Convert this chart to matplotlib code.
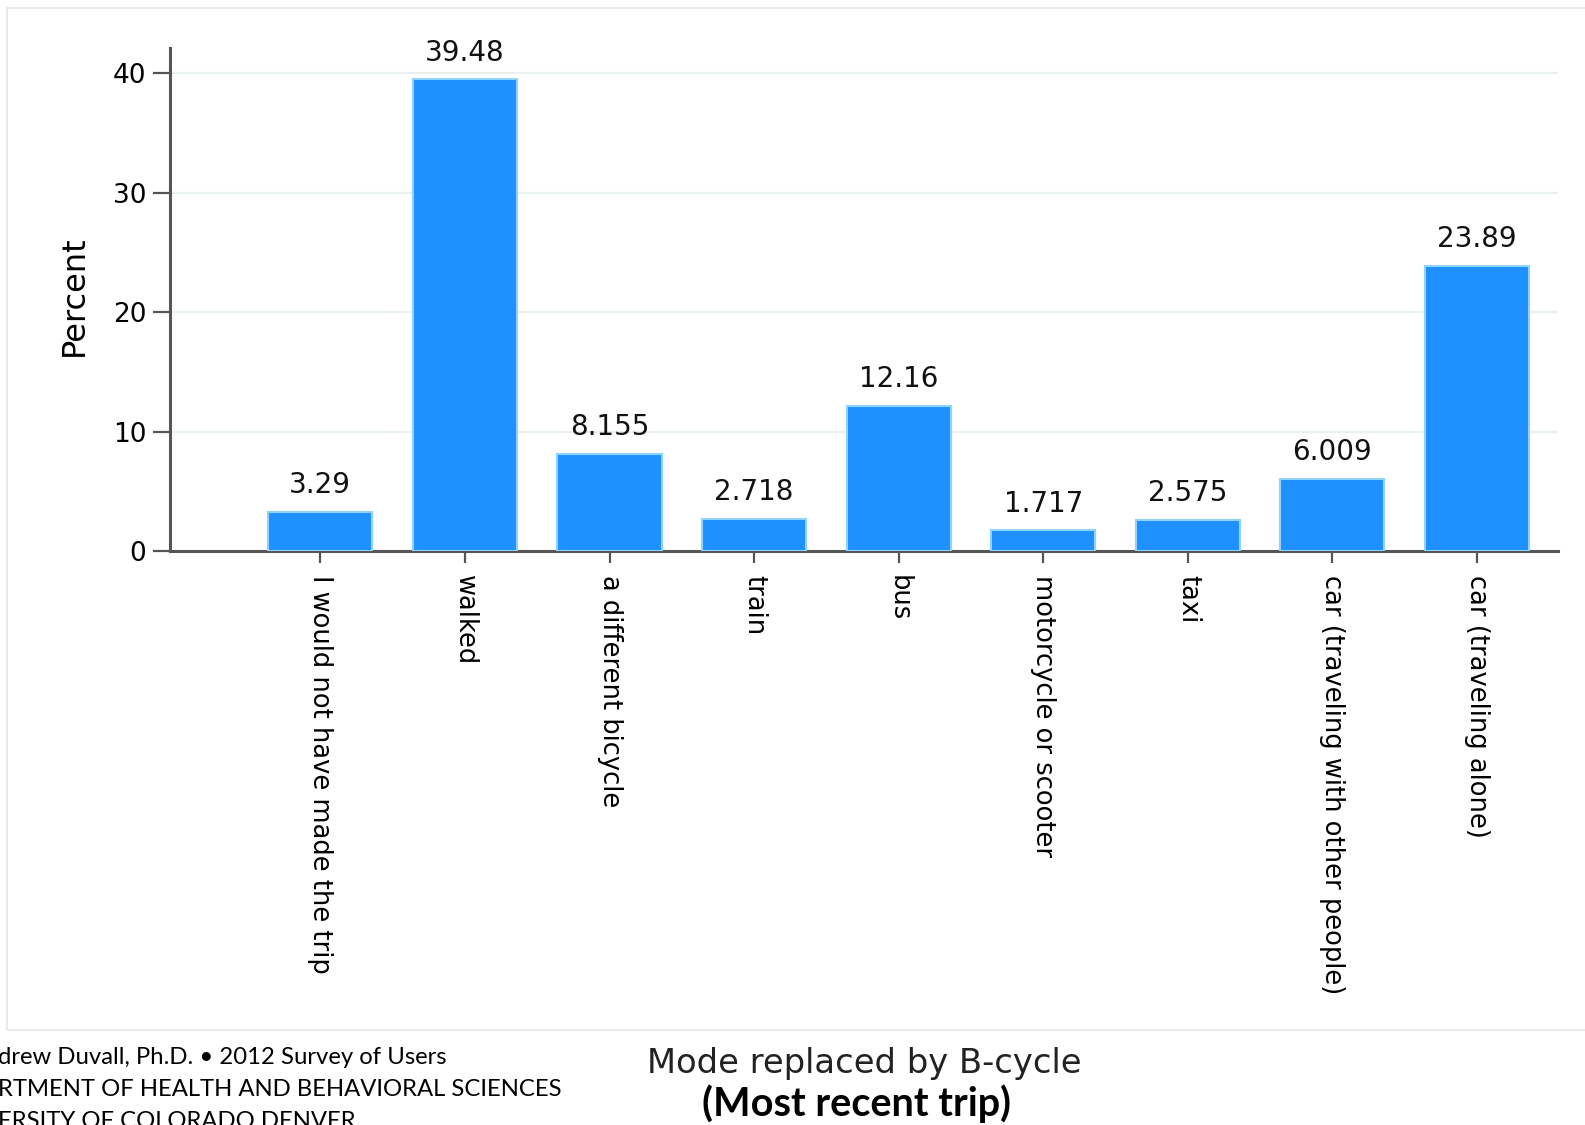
import matplotlib.pyplot as plt
from matplotlib.patches import Rectangle

plt.rcParams["font.family"] = ["DejaVu Sans"]

modes = [
    "I would not have made the trip",
    "walked",
    "a different bicycle",
    "train",
    "bus",
    "motorcycle or scooter",
    "taxi",
    "car (traveling with other people)",
    "car (traveling alone)",
]
percent = [3.29, 39.48, 8.155, 2.718, 12.16, 1.717, 2.575, 6.009, 23.89]
value_labels = ["3.29", "39.48", "8.155", "2.718", "12.16", "1.717", "2.575", "6.009", "23.89"]
yticks = [0, 10, 20, 30, 40]

footer = [
    "drew Duvall, Ph.D. \u2022 2012 Survey of Users",
    "RTMENT OF HEALTH AND BEHAVIORAL SCIENCES",
    "ERSITY OF COLORADO DENVER",
]

W, H = 1585, 1125
fig = plt.figure(figsize=(W / 100, H / 100), dpi=100)
fig.patch.set_facecolor("white")

# faint graph-region frame
fig.patches.append(Rectangle((7 / W, 1 - 1030 / H), 1.0, (1030 - 8) / H,
                             transform=fig.transFigure, fill=False,
                             edgecolor="#e6e6e6", lw=1.2))

ax = fig.add_axes([170 / W, 1 - 551 / H, (1558 - 170) / W, (551 - 48) / H])
x = list(range(len(modes)))
ax.bar(x, percent, width=0.72, color="#1e90ff", edgecolor="#8fd3f8", lw=1.5, zorder=3)

for xi, v, lab in zip(x, percent, value_labels):
    ax.annotate(lab, (xi, v), xytext=(0, 13.5), textcoords="offset points",
                ha="center", va="baseline", fontsize=20, color="#111111")

ax.set_xlim(-1.04, 8.56)
ax.set_ylim(0, 42.1)
ax.set_yticks(yticks)
ax.set_xticks(x)
ax.set_xticklabels(modes, rotation=-90, va="top", ha="center", fontsize=18.5)
ax.tick_params(axis="x", length=8.6, width=1.6, color="#555555", pad=9)
ax.tick_params(axis="y", length=12, width=1.6, color="#555555", pad=5, labelsize=19)

for s in ["top", "right"]:
    ax.spines[s].set_visible(False)
for s in ["left", "bottom"]:
    ax.spines[s].set_color("#555555")
    ax.spines[s].set_linewidth(2.2)

ax.yaxis.grid(True, color="#e8f0f2", lw=1.6, zorder=0)
ax.set_axisbelow(True)

fig.text(74 / W, 1 - 296 / H, "Percent", rotation=90, ha="center", va="center", fontsize=23)
fig.text(864 / W, 1 - 1064 / H, "Mode replaced by B-cycle", ha="center", va="center",
         fontsize=24.3, color="#222222")
fig.text(857 / W, 1 - 1104 / H, "(Most recent trip)", ha="center", va="center",
         fontsize=28.5, fontweight="bold", family="Lato")

for i, line in enumerate(footer):
    fig.text(-2 / W, 1 - (1057 + 32.5 * i) / H, line, ha="left", va="center",
             fontsize=17.2, family="Lato")

fig.savefig("out.png", dpi=100)
